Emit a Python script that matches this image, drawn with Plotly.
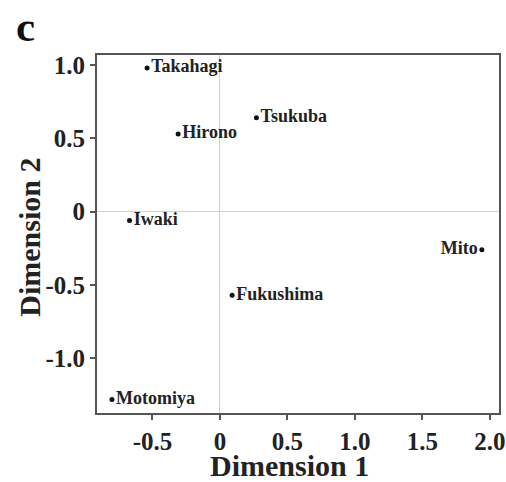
import plotly.graph_objects as go

sites = ["Takahagi", "Hirono", "Tsukuba", "Iwaki", "Mito", "Fukushima", "Motomiya"]
dim1 = [-0.54, -0.31, 0.27, -0.67, 1.94, 0.09, -0.80]
dim2 = [0.98, 0.53, 0.64, -0.06, -0.26, -0.57, -1.28]
label_side = ["middle right", "middle right", "middle right", "middle right",
              "middle left", "middle right", "middle right"]

x_ticks = [-0.5, 0, 0.5, 1.0, 1.5, 2.0]
x_ticktext = ["-0.5", "0", "0.5", "1.0", "1.5", "2.0"]
y_ticks = [1.0, 0.5, 0, -0.5, -1.0]
y_ticktext = ["1.0", "0.5", "0", "-0.5", "-1.0"]

serif = "Liberation Serif, Times New Roman, serif"

fig = go.Figure()
fig.add_trace(go.Scatter(
    x=dim1, y=dim2, mode="markers+text",
    text=["<b>%s</b>" % s for s in sites],
    textposition=label_side,
    textfont=dict(family=serif, size=18, color="#222"),
    marker=dict(size=5, color="#111"),
    showlegend=False,
    cliponaxis=False,
))

axis_common = dict(
    showgrid=False, automargin=False,
    zeroline=True, zerolinecolor="#d0d0d0", zerolinewidth=1,
    showline=True, linecolor="#555", linewidth=2, mirror=True,
    ticks="outside", ticklen=5, tickcolor="#555", tickwidth=2,
    tickfont=dict(family=serif, size=25, color="#222", weight="bold"),
)

fig.update_layout(
    width=506, height=482,
    margin=dict(l=97, r=7, t=55, b=69),
    paper_bgcolor="white", plot_bgcolor="white",
    xaxis=dict(range=[-0.911, 2.067], tickvals=x_ticks, ticktext=x_ticktext,
               **axis_common),
    yaxis=dict(range=[-1.372, 1.068], tickvals=y_ticks, ticktext=y_ticktext,
               **axis_common),
    annotations=[
        dict(text="<b>c</b>", xref="paper", yref="paper",
             x=-0.179, y=1.150, xanchor="center", yanchor="top",
             showarrow=False, font=dict(family=serif, size=43, color="#111")),
        dict(text="<b>Dimension 1</b>", xref="paper", yref="paper",
             x=0.48, y=-0.148, xanchor="center", yanchor="middle",
             showarrow=False, font=dict(family=serif, size=30, color="#222")),
        dict(text="<b>Dimension 2</b>", xref="paper", yref="paper",
             x=-0.167, y=0.492, xanchor="center", yanchor="middle",
             textangle=-90,
             showarrow=False, font=dict(family=serif, size=30, color="#222")),
    ],
)

fig.write_html("out.html",
               config={"displayModeBar": False},
               post_script="document.body.style.margin='0';"
                           "document.body.style.overflow='hidden';")
